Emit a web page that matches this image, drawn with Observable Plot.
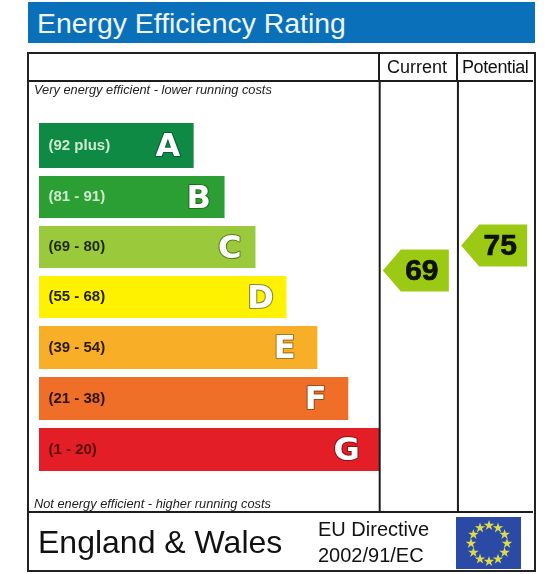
<!DOCTYPE html>
<html><head><meta charset="utf-8">
<script src="https://cdn.jsdelivr.net/npm/d3@7"></script>
<script src="https://cdn.jsdelivr.net/npm/@observablehq/plot@0.6"></script>
<style>
html,body{margin:0;padding:0;background:#fff}
#page{position:relative;width:560px;height:574px;overflow:hidden;font-family:"Liberation Sans",Arial,sans-serif;color:#111;filter:blur(.35px)}
.abs{position:absolute;white-space:nowrap;line-height:1}
#title{left:28px;top:2px;width:507px;height:41px;background:#0a70b9;color:#eef6fb;font-size:28.4px;line-height:43px;text-indent:9px}
#frame{left:27px;top:52px;width:505px;height:516px;border:2px solid #222}
.hline{left:28px;width:505px;height:2px;background:#1c1c1c}
.vline{top:53px;height:28px;width:2px;background:#1c1c1c}
svg{display:block}
#chart{position:absolute;left:0;top:82px}
#flag{position:absolute;left:456px;top:517px}
</style></head>
<body><div id="page">
<div id="title" class="abs">Energy Efficiency Rating</div>
<div id="frame" class="abs"></div>
<div class="abs hline" style="top:80px"></div>
<div class="abs hline" style="top:511px"></div>
<div class="abs vline" style="left:378px"></div>
<div class="abs vline" style="left:456px"></div>
<div class="abs" style="left:387px;top:58px;font-size:18px">Current</div>
<div class="abs" style="left:462px;top:58px;font-size:18px;letter-spacing:-.4px">Potential</div>
<div id="chart"></div>
<div class="abs" style="left:38px;top:526px;font-size:32px">England &amp; Wales</div>
<div class="abs" style="left:318px;top:519px;font-size:20px">EU Directive</div>
<div class="abs" style="left:318px;top:545px;font-size:20px">2002/91/EC</div>
<div id="flag"></div>
</div>
<script>
// Data
const bands = ["A","B","C","D","E","F","G"];
const ranges = ["(92 plus)","(81 - 91)","(69 - 80)","(55 - 68)","(39 - 54)","(21 - 38)","(1 - 20)"];
const lowScores = [92,81,69,55,39,21,1];
const highScores = [100,92,81,69,55,39,21];
const barLengths = [5,6,7,8,9,10,11];
const columns = ["Current","Potential"];
const scores = [69,75];
const topNote = "Very energy efficient - lower running costs";
const bottomNote = "Not energy efficient - higher running costs";
const flagStarHours = [0,1,2,3,4,5,6,7,8,9,10,11];

// Scale configuration
const bandColors = ["#0f8a45","#2c9f34","#9aca3c","#fff200","#f8ae26","#ef6f28","#e31e26"];
const labelColors = ["#cfe7cf","#cfe7cf","#1d2a08","#222200","#2a1c04","#2a1404","#5a1010"];
const letterStroke = ["#0a5e2e","#1d6d24","#5f8020","#8a8a30","#a07a20","#a04a18","#8e1418"];
const scoreDomain = [1,21,39,55,69,81,92,100];
const scoreRange = [392,341,290,239,189,139,89,36];
const colEdges = [11,13.53,16.07];

const rows = bands.map((band,i)=>({band,range:ranges[i],lo:lowScores[i],hi:highScores[i],len:barLengths[i],
  mid:(lowScores[i]+highScores[i])/2,labelFill:labelColors[i],outline:letterStroke[i],
  letterX:barLengths[i]-(i>=4?1.07:0.85)}));
const pointers = columns.map((c,i)=>({c,score:scores[i],x:(colEdges[i]+colEdges[i+1])/2}));

const pointerShape = {draw(ctx){
  ctx.moveTo(-33,0);ctx.lineTo(-15,-21);ctx.lineTo(33,-21);ctx.lineTo(33,21);ctx.lineTo(-15,21);ctx.closePath();
}};

const chart = Plot.plot({
  width:560,height:430,margin:0,
  style:{background:"transparent",fontFamily:"Liberation Sans, Arial, sans-serif"},
  x:{axis:null,domain:[0,16.07],range:[39,536]},
  y:{axis:null,type:"linear",domain:scoreDomain,range:scoreRange},
  color:{domain:bands,range:bandColors},
  marks:[
    Plot.rectX(rows,{x1:()=>0,x2:"len",y1:"lo",y2:"hi",fill:"band",insetTop:5,insetBottom:3}),
    Plot.ruleX(colEdges.slice(0,2),{stroke:"#1c1c1c",strokeWidth:2}),
    Plot.text(rows,{x:()=>0,y:"mid",text:"range",fill:"labelFill",textAnchor:"start",dx:9,dy:0,
      fontFamily:"Liberation Sans, sans-serif",fontWeight:"bold",fontSize:15}),
    Plot.text(rows,{x:"letterX",y:"mid",text:"band",fill:"white",stroke:"outline",strokeWidth:2.2,dy:1,
      fontFamily:"DejaVu Sans, sans-serif",fontWeight:"bold",fontSize:32}),
    Plot.dot(pointers,{x:"x",y:"score",symbol:pointerShape,fill:"#9cc913",dx:-3,dy:-1}),
    Plot.text(pointers,{x:"x",y:"score",text:"score",dx:3,dy:-1,fill:"#0d1203",stroke:"#0d1203",strokeWidth:0.7,
      fontFamily:"Liberation Sans, sans-serif",fontWeight:"bold",fontSize:30}),
    Plot.text([topNote],{frameAnchor:"top-left",dx:33.5,dy:2,text:d=>d,fill:"#222",fontStyle:"italic",fontSize:12.8,lineAnchor:"top"}),
    Plot.text([bottomNote],{frameAnchor:"bottom-left",dx:33.5,dy:-5,text:d=>d,fill:"#222",fontStyle:"italic",fontSize:12.8,lineAnchor:"bottom"})
  ]
});
document.getElementById("chart").append(chart);

const flag = Plot.plot({
  width:65,height:52,margin:0,
  style:{background:"#2a4aa6"},
  x:{axis:null,domain:[-32.5,32.5],range:[0,65]},
  y:{axis:null,domain:[-26,26],range:[52,0]},
  marks:[
    Plot.dot(flagStarHours,{x:h=>18*Math.sin(h*Math.PI/6),y:h=>18*Math.cos(h*Math.PI/6),symbol:"star",r:3.3,fill:"#dcdc4a"})
  ]
});
document.getElementById("flag").append(flag);
</script>
</body></html>
